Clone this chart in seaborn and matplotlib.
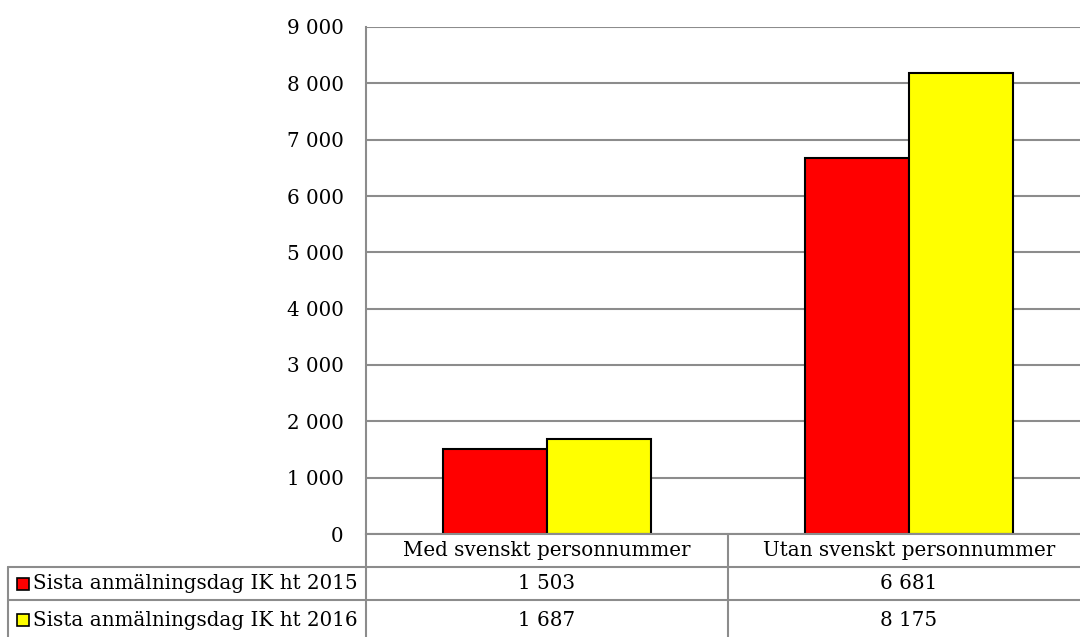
import numpy as np
import pandas as pd
import matplotlib
matplotlib.use("Agg")
import matplotlib.pyplot as plt
from matplotlib.lines import Line2D
from matplotlib.patches import Rectangle
import seaborn as sns

# Data
kategorier = ["Med svenskt personnummer", "Utan svenskt personnummer"]
serier = ["Sista anmälningsdag IK ht 2015", "Sista anmälningsdag IK ht 2016"]
ht2015 = [1503, 6681]
ht2016 = [1687, 8175]
farger = ["#ff0000", "#ffff00"]
yticks = [0, 1000, 2000, 3000, 4000, 5000, 6000, 7000, 8000, 9000]

df = pd.DataFrame({
    "kategori": kategorier * 2,
    "serie": [serier[0]] * 2 + [serier[1]] * 2,
    "antal": ht2015 + ht2016,
})

def fmt(v):
    return f"{v:,}".replace(",", " ")

sns.set_style("white")
plt.rcParams["font.family"] = ["DejaVu Serif"]
plt.rcParams["text.color"] = "black"
plt.rcParams["ytick.color"] = "black"
FS = 14.3

W, H = 1080, 637
fig = plt.figure(figsize=(W / 100, H / 100), dpi=100)

# plot area in pixels (right edge goes beyond the image, as in the reference)
x0, x1, ytop, ybot = 366, 1090, 27, 534
ax = fig.add_axes([x0 / W, 1 - ybot / H, (x1 - x0) / W, (ybot - ytop) / H])

sns.barplot(data=df, x="kategori", y="antal", hue="serie", palette=farger,
            saturation=1, edgecolor="black", linewidth=1.5, width=0.575,
            ax=ax, legend=False)

grid = "#8c8c8c"
ax.set_ylim(0, 9000)
ax.set_yticks(yticks)
ax.set_yticklabels([fmt(v) for v in yticks], fontsize=FS, color="black")
ax.tick_params(axis="y", length=0, pad=16)
ax.set_xticks([])
ax.set_xlabel("")
ax.set_ylabel("")
ax.yaxis.grid(True, color=grid, linewidth=1.5)
ax.set_axisbelow(True)
for s in ["top", "right"]:
    ax.spines[s].set_visible(False)
for s in ["left", "bottom"]:
    ax.spines[s].set_color(grid)
    ax.spines[s].set_linewidth(1.5)

# Data table under the chart
def fx(px):
    return px / W

def fy(py):
    return 1 - py / H

def hline(xa, xb, y):
    fig.add_artist(Line2D([fx(xa), fx(xb)], [fy(y), fy(y)], color=grid, lw=1.5))

def vline(x, ya, yb):
    fig.add_artist(Line2D([fx(x), fx(x)], [fy(ya), fy(yb)], color=grid, lw=1.5))

rad = [534, 567, 600, 640]
kol = [x0, x0 + (x1 - x0) / 2, x1]
leg_x = 8

hline(x0, x1 + 10, rad[1])
hline(leg_x, x1 + 10, rad[2])
hline(leg_x, x1 + 10, rad[3] - 1)
hline(leg_x, x0, rad[1])
vline(leg_x, rad[1], rad[3])
for k in kol:
    vline(k, rad[0], rad[3])

for i, kat in enumerate(kategorier):
    cx = (kol[i] + kol[i + 1]) / 2
    fig.text(fx(cx), fy((rad[0] + rad[1]) / 2), kat, ha="center", va="center", fontsize=FS)

for r, (namn, varden, farg) in enumerate(zip(serier, [ht2015, ht2016], farger)):
    cy = (rad[r + 1] + rad[r + 2]) / 2
    sq = 12
    fig.add_artist(Rectangle((fx(17), fy(cy + sq / 2)), sq / W, sq / H,
                             facecolor=farg, edgecolor="black", lw=1.2))
    fig.text(fx(33), fy(cy), namn, ha="left", va="center", fontsize=FS)
    for i, v in enumerate(varden):
        cx = (kol[i] + kol[i + 1]) / 2
        fig.text(fx(cx), fy(cy), fmt(v), ha="center", va="center", fontsize=FS)

fig.savefig("out.png", dpi=100)
